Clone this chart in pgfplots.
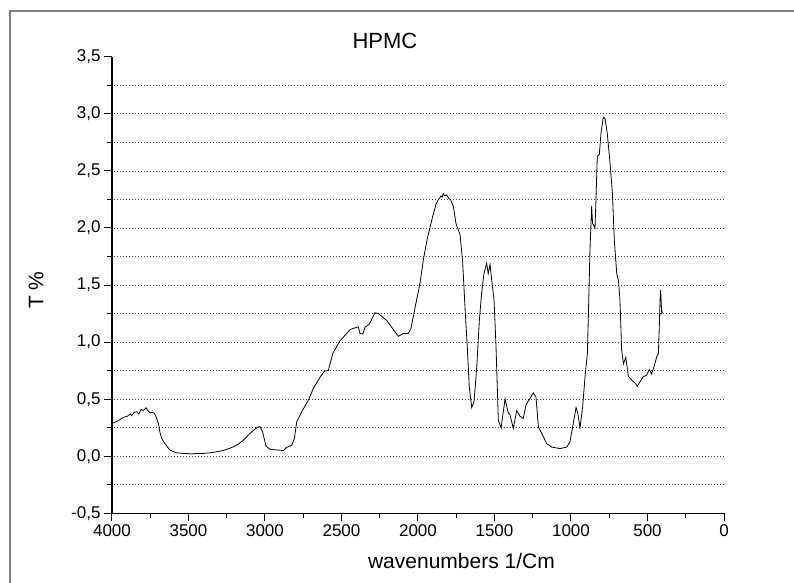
\documentclass[border=0pt]{standalone}
\usepackage{fontspec}
\setmainfont{Liberation Sans}
\usepackage{pgfplots}
\pgfplotsset{compat=1.18}
\pgfplotstableread{
w v
3995 0.29
3960 0.31
3926 0.34
3900 0.35
3880 0.37
3871 0.355
3855 0.385
3839 0.39
3825 0.37
3810 0.41
3795 0.40
3778 0.424
3765 0.40
3752 0.38
3738 0.385
3723 0.375
3710 0.34
3697 0.287
3685 0.20
3675 0.155
3654 0.11
3621 0.053
3577 0.03
3540 0.025
3512 0.024
3480 0.02
3446 0.024
3400 0.025
3359 0.03
3320 0.038
3273 0.05
3240 0.065
3207 0.082
3170 0.11
3142 0.14
3098 0.20
3054 0.25
3033 0.26
3015 0.21
2993 0.088
2967 0.06
2923 0.055
2880 0.05
2858 0.078
2825 0.096
2808 0.155
2793 0.30
2760 0.39
2717 0.49
2684 0.594
2641 0.69
2612 0.745
2586 0.75
2557 0.90
2510 1.01
2444 1.11
2390 1.134
2379 1.076
2361 1.07
2346 1.13
2318 1.158
2281 1.257
2259 1.25
2205 1.19
2161 1.11
2129 1.05
2096 1.076
2063 1.076
2046 1.12
2031 1.22
2009 1.37
1987 1.515
1965 1.72
1939 1.91
1922 2.0
1904 2.1
1882 2.21
1870 2.24
1860 2.26
1850 2.28
1842 2.27
1835 2.30
1825 2.28
1812 2.29
1800 2.26
1786 2.245
1769 2.19
1752 2.04
1725 1.94
1708 1.70
1693 1.31
1678 0.96
1665 0.61
1649 0.427
1634 0.476
1616 0.78
1599 1.19
1584 1.43
1569 1.60
1551 1.69
1541 1.60
1529 1.68
1518 1.54
1503 1.37
1490 0.96
1475 0.316
1457 0.25
1431 0.50
1410 0.38
1400 0.37
1377 0.243
1355 0.40
1333 0.35
1312 0.33
1294 0.45
1268 0.506
1246 0.555
1229 0.52
1213 0.257
1191 0.20
1159 0.11
1126 0.08
1072 0.067
1028 0.08
1007 0.125
985 0.287
967 0.427
956 0.38
941 0.25
924 0.43
908 0.70
893 0.90
886 1.25
876 1.81
865 2.19
859 2.04
843 2.0
837 2.245
828 2.63
815 2.64
804 2.83
789 2.97
778 2.96
763 2.83
745 2.57
729 2.30
717 1.895
701 1.60
690 1.54
680 1.37
669 0.93
657 0.81
642 0.866
625 0.70
603 0.667
582 0.643
567 0.614
549 0.652
528 0.696
506 0.71
488 0.76
473 0.72
458 0.78
440 0.87
429 0.90
423 1.13
418 1.37
414 1.456
407 1.25
401 1.266
}\spectrum
\begin{document}
\begin{tikzpicture}
\path[use as bounding box] (-112pt,-68.7pt) rectangle (682pt,513.3pt);
\draw[gray, line width=2pt] (-102pt,-80pt) -- (-102pt,502.6pt) -- (700pt,502.6pt);
\begin{axis}[
  at={(0,0)}, anchor=south west,
  scale only axis, width=612pt, height=456.6pt,
  x dir=reverse,
  xmin=0, xmax=4000, ymin=-0.5, ymax=3.5,
  axis x line*=bottom, axis y line*=left,
  x axis line style={-}, y axis line style={-},
  axis line style={line width=1.2pt},
  tick align=outside,
  tick style={line width=1pt, black},
  major tick length=8pt, minor tick length=4.5pt,
  xtick={0,500,...,4000}, ytick={-0.5,0,...,3.5},
  minor x tick num=1, minor y tick num=1,
  extra y ticks={-0.25,0,0.25,0.5,0.75,1,1.25,1.5,1.75,2,2.25,2.5,2.75,3,3.25},
  extra y tick labels={},
  extra y tick style={grid=major, major tick length=0pt},
  major grid style={line width=0.6pt, black!75, dash pattern=on 1pt off 2pt},
  /pgf/number format/assume math mode=true,
  tick label style={font=\fontsize{17}{17}\selectfont},
  yticklabel style={/pgf/number format/.cd, fixed, fixed zerofill, precision=1, use comma},
  xticklabel style={/pgf/number format/1000 sep={}},
  title={HPMC},
  title style={at={(axis description cs:0.446,1.005)}, anchor=base, font=\fontsize{22}{26}\selectfont},
  xlabel={wavenumbers 1/Cm},
  xlabel style={at={(axis description cs:0.571,-0.1198)}, anchor=base, font=\fontsize{21}{25}\selectfont},
  ylabel={T \%},
  ylabel style={at={(axis description cs:-0.124,0.489)}, anchor=center, font=\fontsize{21}{25}\selectfont},
]
\addplot[black, line width=0.8pt, mark=none] table[x=w, y=v] {\spectrum};
\end{axis}
\end{tikzpicture}
\end{document}
